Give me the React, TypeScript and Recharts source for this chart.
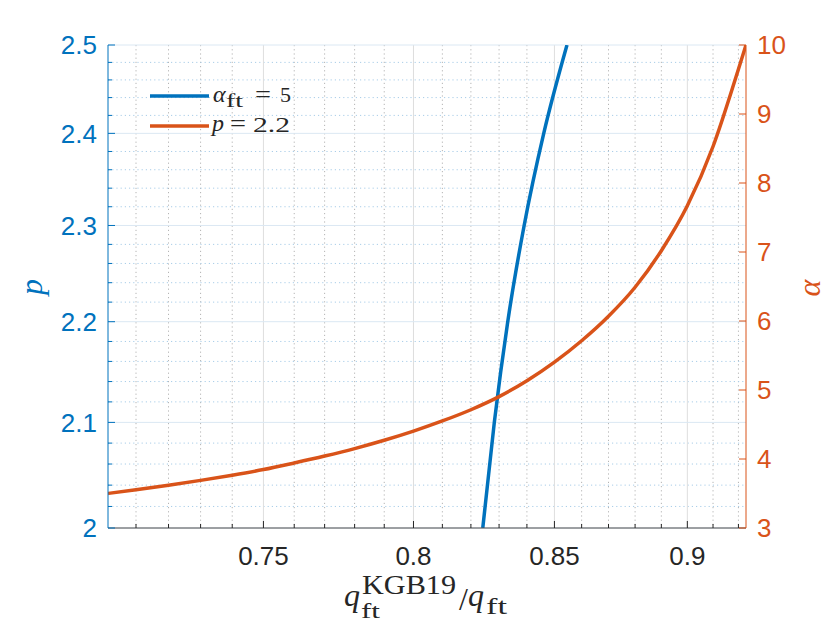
import React from "react";
import { LineChart, Line, XAxis, YAxis, CartesianGrid, Legend } from "recharts";

const BLUE = "#0072BD";
const ORANGE = "#D95319";
const INK = "#262626";
const SANS = "'Liberation Sans', Arial, sans-serif";
const SERIF = "'Liberation Serif', 'Times New Roman', serif";

// alpha_ft = 5 : p against q_ft^KGB19 / q_ft (left axis, log)
const blueQ = [0.8242, 0.8283, 0.8331, 0.839, 0.8461, 0.8546];
const blueP = [2.0, 2.1, 2.2, 2.3, 2.4, 2.5];

// p = 2.2 : alpha against q_ft^KGB19 / q_ft (right axis)
const orangeQ = [
  0.7015, 0.71, 0.72, 0.73, 0.74, 0.75, 0.76, 0.77, 0.78, 0.79, 0.8, 0.81,
  0.82, 0.83, 0.84, 0.85, 0.86, 0.87, 0.88, 0.89, 0.9, 0.91, 0.92, 0.923,
];
const orangeAlpha = [
  3.501, 3.554, 3.62, 3.69, 3.765, 3.847, 3.943, 4.043, 4.151, 4.271, 4.404, 4.551,
  4.714, 4.904, 5.134, 5.404, 5.714, 6.069, 6.489, 7.019, 7.669, 8.529, 9.649, 10.0,
];

const xMajor = [0.75, 0.8, 0.85, 0.9];
const xMinor = [
  0.71, 0.72, 0.73, 0.74, 0.76, 0.77, 0.78, 0.79, 0.81, 0.82, 0.83, 0.84,
  0.86, 0.87, 0.88, 0.89, 0.91, 0.92,
];
const pMajor = [2, 2.1, 2.2, 2.3, 2.4, 2.5];
const pMinor = [
  2.02, 2.04, 2.06, 2.08, 2.12, 2.14, 2.16, 2.18, 2.22, 2.24, 2.26, 2.28,
  2.32, 2.34, 2.36, 2.38, 2.42, 2.44, 2.46, 2.48,
];
const alphaTicks = [3, 4, 5, 6, 7, 8, 9, 10];

const blueData = blueQ.map((q, i) => ({ q, p: blueP[i] }));
const orangeData = orangeQ.map((q, i) => ({ q, alpha: orangeAlpha[i] }));
const xTicks = [...xMajor, ...xMinor].sort((a, b) => a - b);
const pTicks = [...pMajor, ...pMinor].sort((a, b) => a - b);

const isIn = (list: number[], v: number) => list.some((m) => Math.abs(m - v) < 1e-6);

const XTick = (props: any) => {
  const { x, y, payload } = props;
  const major = isIn(xMajor, payload.value);
  return (
    <g>
      <line x1={x} x2={x} y1={y} y2={y - (major ? 7 : 4)} stroke={INK} strokeWidth={1} />
      {major && (
        <text x={x} y={y + 37} textAnchor="middle" fontSize={26} fontFamily={SANS} fill={INK}>
          {String(payload.value)}
        </text>
      )}
    </g>
  );
};

const LeftTick = (props: any) => {
  const { x, y, payload } = props;
  const major = isIn(pMajor, payload.value);
  return (
    <g>
      <line x1={x} x2={x + (major ? 7 : 4)} y1={y} y2={y} stroke={BLUE} strokeWidth={1} />
      {major && (
        <text x={x - 11} y={y} dy="0.36em" textAnchor="end" fontSize={26} fontFamily={SANS} fill={BLUE}>
          {String(payload.value)}
        </text>
      )}
    </g>
  );
};

const RightTick = (props: any) => {
  const { x, y, payload } = props;
  return (
    <g>
      <line x1={x} x2={x - 7} y1={y} y2={y} stroke={ORANGE} strokeWidth={1} />
      <text x={x + 11} y={y} dy="0.36em" textAnchor="start" fontSize={26} fontFamily={SANS} fill={ORANGE}>
        {String(payload.value)}
      </text>
    </g>
  );
};

const XLabel = () => (
  <g fontFamily={SERIF} fill={INK}>
    <text x={344} y={606} fontSize={32} fontStyle="italic">q</text>
    <text x={362} y={594} fontSize={27} textLength={94} lengthAdjust="spacingAndGlyphs">KGB19</text>
    <text x={361} y={618} fontSize={20} textLength={19} lengthAdjust="spacingAndGlyphs">ft</text>
    <text x={459} y={610} fontSize={32}>/</text>
    <text x={468} y={606} fontSize={32} fontStyle="italic">q</text>
    <text x={486} y={614} fontSize={24} textLength={21} lengthAdjust="spacingAndGlyphs">ft</text>
  </g>
);

const PLabel = () => (
  <text x={42} y={287} transform="rotate(-90 42 287)" textAnchor="middle" fontSize={32}
    fontStyle="italic" fontFamily={SERIF} fill={BLUE}>p</text>
);

const AlphaLabel = () => (
  <text x={820} y={288} transform="rotate(-90 820 288)" textAnchor="middle" fontSize={32}
    fontStyle="italic" fontFamily={SERIF} fill={ORANGE}>α</text>
);

const legendText: Record<string, React.ReactNode> = {
  p: (
    <g fontFamily={SERIF} fill={INK}>
      <text x={73} y={22} fontSize={24} fontStyle="italic">α</text>
      <text x={86} y={27} fontSize={18} textLength={17} lengthAdjust="spacingAndGlyphs">ft</text>
      <text x={115} y={22} fontSize={23} textLength={16} lengthAdjust="spacingAndGlyphs">=</text>
      <text x={140} y={22} fontSize={22}>5</text>
    </g>
  ),
  alpha: (
    <g fontFamily={SERIF} fill={INK}>
      <text x={72} y={51} fontSize={24} fontStyle="italic">p</text>
      <text x={90} y={51} fontSize={23} textLength={16} lengthAdjust="spacingAndGlyphs">=</text>
      <text x={113} y={51.5} fontSize={22} textLength={37} lengthAdjust="spacingAndGlyphs">2.2</text>
    </g>
  ),
};

const renderLegend = (props: any) => {
  const payload = props.payload || [];
  return (
    <svg width={170} height={65} style={{ display: "block", overflow: "visible" }}>
      {payload.map((entry: any, i: number) => (
        <g key={i}>
          <line x1={10} x2={69} y1={16 + 30 * i} y2={16 + 30 * i} stroke={entry.color} strokeWidth={3.5} />
          {legendText[entry.dataKey]}
        </g>
      ))}
    </svg>
  );
};

export default function App() {
  return (
    <div style={{ position: "absolute", left: 0, top: 0 }}>
      <LineChart width={830} height={623} margin={{ top: 45, right: 0, bottom: 0, left: 0 }}>
        <CartesianGrid xAxisId="x" yAxisId="left" horizontal={false} verticalValues={xMinor}
          stroke="#b4b4b4" strokeDasharray="1.2 3" />
        <CartesianGrid xAxisId="x" yAxisId="left" vertical={false} horizontalValues={pMinor}
          stroke="#a9cde8" strokeDasharray="1.2 3" />
        <CartesianGrid xAxisId="x" yAxisId="left" horizontal={false} verticalValues={xMajor}
          stroke="#dedede" />
        <CartesianGrid xAxisId="x" yAxisId="left" vertical={false} horizontalValues={pMajor}
          stroke="#dbe8f3" />
        <XAxis xAxisId="x" dataKey="q" type="number" scale="log" domain={[0.7015, 0.923]}
          allowDataOverflow ticks={xTicks} interval={0} tick={<XTick />} tickLine={false}
          tickSize={0} tickMargin={0} height={95} axisLine={{ stroke: "#4d4d4d" }}
          label={{ content: () => <XLabel /> }} />
        <YAxis yAxisId="left" orientation="left" type="number" scale="log" domain={[2, 2.5]}
          allowDataOverflow ticks={pTicks} interval={0} tick={<LeftTick />} tickLine={false}
          tickSize={0} tickMargin={0} width={108} axisLine={{ stroke: BLUE }}
          label={{ content: () => <PLabel /> }} />
        <YAxis yAxisId="right" orientation="right" type="number" domain={[3, 10]}
          allowDataOverflow ticks={alphaTicks} interval={0} tick={<RightTick />} tickLine={false}
          tickSize={0} tickMargin={0} width={84} axisLine={{ stroke: ORANGE }}
          label={{ content: () => <AlphaLabel /> }} />
        <Legend layout="vertical" align="center" verticalAlign="middle" content={renderLegend}
          wrapperStyle={{ left: 140, top: 80, width: 170, height: 65 }} />
        <Line data={blueData} dataKey="p" name="alpha_ft = 5" xAxisId="x" yAxisId="left"
          type="monotone" stroke={BLUE} strokeWidth={3.5} dot={false} isAnimationActive={false} />
        <Line data={orangeData} dataKey="alpha" name="p = 2.2" xAxisId="x" yAxisId="right"
          type="monotone" stroke={ORANGE} strokeWidth={3.5} dot={false} isAnimationActive={false} />
      </LineChart>
    </div>
  );
}
